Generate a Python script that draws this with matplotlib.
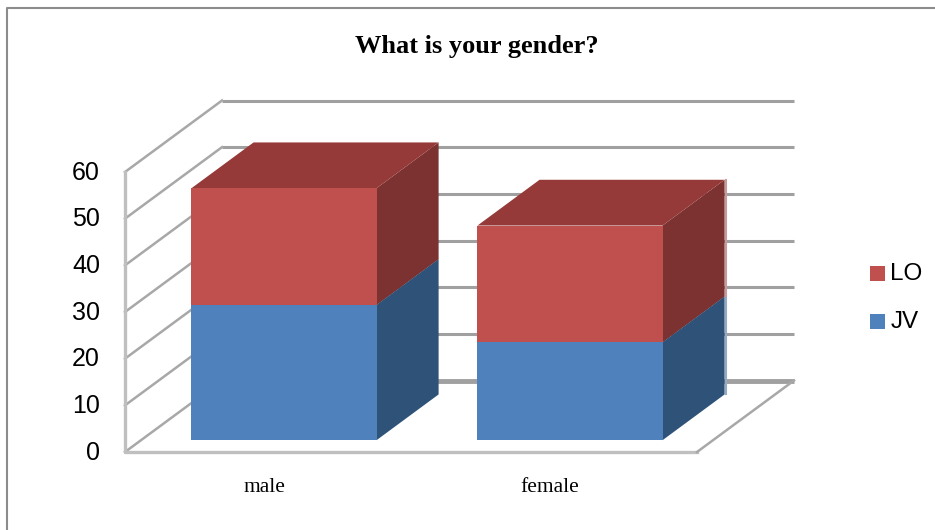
import matplotlib
matplotlib.use('Agg')
import matplotlib.pyplot as plt
from matplotlib.patches import Polygon, Rectangle

categories = ['male', 'female']
jv_values = [29, 21]
lo_values = [25, 25]
y_ticks = [0, 10, 20, 30, 40, 50, 60]
title = 'What is your gender?'

W, H = 935, 530
# oblique projection of the excel 3d chart, all in image pixels
X0, Y0 = 125, 452
SLOT = 286
UNIT = 280 / 60
DEPTH_X, DEPTH_Y = 97, 71.5
BAR_W = 0.647
BAR_DEPTH = 0.64
BAR_D0 = 0.165


def proj(x, v, d):
    return X0 + SLOT * x + DEPTH_X * d, Y0 - UNIT * v - DEPTH_Y * d


def box(x, v0, v1, colors, zo):
    xl, xr = x - BAR_W / 2, x + BAR_W / 2
    d0, d1 = BAR_D0, BAR_D0 + BAR_DEPTH
    front, side, top = colors
    ax.add_patch(Polygon([proj(xr, v0, d0), proj(xr, v0, d1), proj(xr, v1, d1), proj(xr, v1, d0)],
                         fc=side, ec='none', zorder=zo))
    ax.add_patch(Polygon([proj(xl, v1, d0), proj(xl, v1, d1), proj(xr, v1, d1), proj(xr, v1, d0)],
                         fc=top, ec='none', zorder=zo))
    ax.add_patch(Polygon([proj(xl, v0, d0), proj(xr, v0, d0), proj(xr, v1, d0), proj(xl, v1, d0)],
                         fc=front, ec='none', zorder=zo + 0.1))


fig = plt.figure(figsize=(W / 100, H / 100), dpi=100)
ax = fig.add_axes([0, 0, 1, 1])
ax.set_xlim(0, W)
ax.set_ylim(H, 0)
ax.axis('off')

# outer chart border
ax.plot([7, 7, W], [H, 8, 8], color='#8c8c8c', lw=1.5, zorder=1)

# back wall gridlines + side wall diagonals
for v in y_ticks:
    x0, y0 = proj(0, v, 0)
    x1, y1 = proj(0, v, 1)
    x2, y2 = proj(2, v, 1)
    lw = 3.5 if v == 0 else 2.2
    ax.plot([x1, x2], [y1, y2], color='#a0a0a0', lw=lw, solid_capstyle='butt', zorder=2)
    ax.plot([x0, x1], [y0, y1], color='#a8a8a8', lw=1.8, zorder=2)
    ax.text(x0 - 25, y0 + 0.5, str(v), ha='right', va='center', fontsize=18,
            family='Liberation Sans', color='black')

# front axis edges
ax.plot(*zip(proj(0, 60, 0), proj(0, 0, 0), proj(2, 0, 0)), color='#bfbfbf', lw=2.4, zorder=2)
ax.plot(*zip(proj(2, 0, 0), proj(2, 0, 1)), color='#a8a8a8', lw=1.8, zorder=2)

for i, name in enumerate(categories):
    x = i + 0.5
    box(x, 0, jv_values[i], ('#4f81bd', '#2f5279', '#3a6594'), 3)
    box(x, jv_values[i], jv_values[i] + lo_values[i], ('#c0504d', '#7b3230', '#953a38'), 4)
    ax.text(proj(x, 0, 0)[0] - 4, 487, name, ha='center', va='center', fontsize=15.5,
            family='Liberation Serif', color='black')

# pale rim on the female bar's back edge
xb = proj(1.5 + BAR_W / 2, 0, BAR_D0 + BAR_DEPTH)[0] + 1
total = jv_values[1] + lo_values[1]
ax.plot([xb, xb], [proj(0, 0, BAR_D0 + BAR_DEPTH)[1], proj(0, jv_values[1], BAR_D0 + BAR_DEPTH)[1]],
        color='#94abc6', lw=1.5, zorder=2.5)
ax.plot([xb, xb], [proj(0, jv_values[1], BAR_D0 + BAR_DEPTH)[1], proj(0, total, BAR_D0 + BAR_DEPTH)[1]],
        color='#c39c9b', lw=1.5, zorder=2.5)

ax.text(477, 46, title, ha='center', va='center', fontsize=19, fontweight='bold',
        family='Liberation Serif', color='black')

# legend
ax.add_patch(Rectangle((870, 266), 15, 15, fc='#c0504d', ec='none'))
ax.add_patch(Rectangle((870, 314), 15, 15, fc='#4f81bd', ec='none'))
ax.text(890, 274, 'LO', ha='left', va='center', fontsize=17.5, family='Liberation Sans', color='black')
ax.text(891, 322, 'JV', ha='left', va='center', fontsize=17.5, family='Liberation Sans', color='black')

fig.savefig('out.png', dpi=100)
